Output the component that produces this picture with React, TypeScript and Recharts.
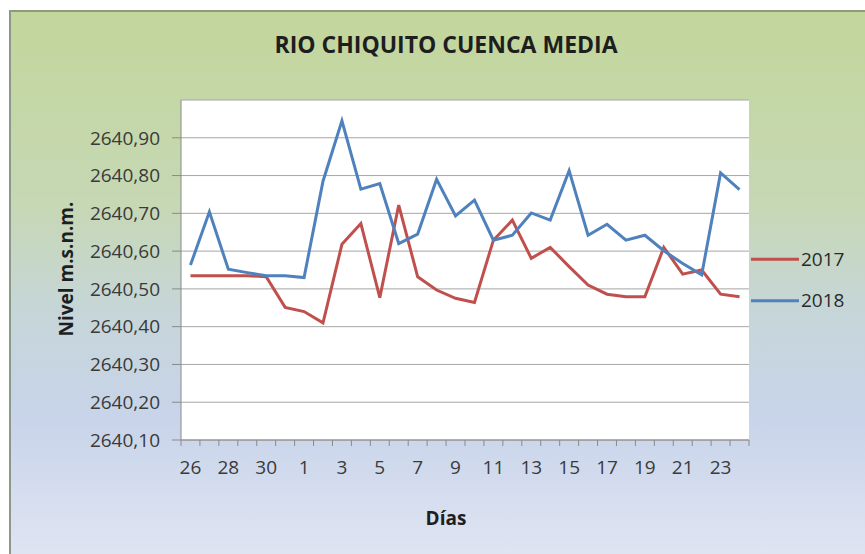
import React from 'react';
import { LineChart, Line, XAxis, YAxis, CartesianGrid } from 'recharts';

const days = ['26', '27', '28', '29', '30', '31', '1', '2', '3', '4', '5', '6', '7', '8', '9', '10', '11', '12', '13', '14', '15', '16', '17', '18', '19', '20', '21', '22', '23', '24'];

const nivel2017 = [2640.535, 2640.535, 2640.535, 2640.535, 2640.532, 2640.451, 2640.44, 2640.41, 2640.618, 2640.673, 2640.477, 2640.722, 2640.532, 2640.497, 2640.475, 2640.464, 2640.629, 2640.682, 2640.581, 2640.61, 2640.559, 2640.51, 2640.486, 2640.479, 2640.479, 2640.61, 2640.539, 2640.55, 2640.486, 2640.479];

const nivel2018 = [2640.563, 2640.704, 2640.552, 2640.543, 2640.535, 2640.535, 2640.53, 2640.785, 2640.945, 2640.764, 2640.779, 2640.62, 2640.645, 2640.79, 2640.693, 2640.735, 2640.629, 2640.642, 2640.701, 2640.682, 2640.813, 2640.642, 2640.671, 2640.629, 2640.642, 2640.601, 2640.567, 2640.537, 2640.807, 2640.763];

const yTicks = [2640.1, 2640.2, 2640.3, 2640.4, 2640.5, 2640.6, 2640.7, 2640.8, 2640.9];
const yDomain = [2640.1, 2641.0];

const seriesNames = ['2017', '2018'];
const seriesColors = ['#c0504d', '#4f81bd'];

const titleText = 'RIO CHIQUITO CUENCA MEDIA';
const yTitle = 'Nivel m.s.n.m.';
const xTitle = 'Días';

const data = days.map((d, i) => ({ day: d, s2017: nivel2017[i], s2018: nivel2018[i] }));

const FONT = '"Open Sans", "Noto Sans", sans-serif';
const W = 865;
const H = 554;
const PLOT_L = 181;
const PLOT_R = 749;
const PLOT_T = 100;
const PLOT_B = 440;
const Y_W = 80;
const X_H = 40;
const BAND = (PLOT_R - PLOT_L) / days.length;

function XTick(props: any) {
  const { x, payload, index } = props;
  const showLabel = index % 2 === 0;
  return (
    <g>
      <line x1={x - BAND / 2} x2={x - BAND / 2} y1={PLOT_B} y2={PLOT_B + 6} stroke="#8a8a8a" strokeWidth={1} />
      {index === days.length - 1 && (
        <line x1={x + BAND / 2} x2={x + BAND / 2} y1={PLOT_B} y2={PLOT_B + 6} stroke="#8a8a8a" strokeWidth={1} />
      )}
      {showLabel && (
        <text x={x} y={467 + 0.357 * 19} textAnchor="middle" fontSize={19} fill="#3a3a3a" fontFamily={FONT}>
          {payload.value}
        </text>
      )}
    </g>
  );
}

export default function App() {
  const legendY = [259.3, 300.7];
  return (
    <div style={{ position: 'absolute', left: 0, top: 0, width: W, height: H, overflow: 'hidden', fontFamily: FONT }}>
      <div
        style={{
          position: 'absolute',
          left: 9,
          top: 10,
          width: W - 9,
          height: H - 10,
          boxSizing: 'border-box',
          borderLeft: '2px solid #8c9888',
          borderTop: '2px solid #8c9a7e',
          background: 'linear-gradient(to bottom, #c3d69b 0%, #c6d8b4 35%, #c6d6d8 55%, #c8d4ea 75%, #dfe4f2 100%)',
        }}
      />
      <div style={{ position: 'absolute', left: 0, top: 0 }}>
        <LineChart
          width={W}
          height={H}
          data={data}
          margin={{ top: PLOT_T, right: W - PLOT_R, bottom: H - PLOT_B - X_H, left: PLOT_L - Y_W }}
        >
          <CartesianGrid vertical={false} fill="#ffffff" fillOpacity={1} stroke="#a6a6a6" strokeWidth={1} />
          <XAxis
            dataKey="day"
            type="category"
            interval={0}
            height={X_H}
            padding={{ left: BAND / 2, right: BAND / 2 }}
            tick={<XTick />}
            tickLine={false}
            axisLine={{ stroke: '#8a8a8a', strokeWidth: 1 }}
          />
          <YAxis
            type="number"
            domain={yDomain}
            ticks={yTicks}
            width={Y_W}
            allowDataOverflow
            tickSize={9}
            tickMargin={12}
            tickLine={{ stroke: '#8a8a8a' }}
            axisLine={{ stroke: '#8a8a8a', strokeWidth: 1 }}
            tickFormatter={(v: number) => v.toFixed(2).replace('.', ',')}
            tick={{ fontSize: 19, fill: '#3a3a3a', fontFamily: FONT }}
          />
          <Line type="linear" dataKey="s2017" name={seriesNames[0]} stroke={seriesColors[0]} strokeWidth={3} dot={false} isAnimationActive={false} />
          <Line type="linear" dataKey="s2018" name={seriesNames[1]} stroke={seriesColors[1]} strokeWidth={3} dot={false} isAnimationActive={false} />
        </LineChart>
      </div>
      <svg width={W} height={H} style={{ position: 'absolute', left: 0, top: 0, pointerEvents: 'none' }}>
        <text x={446} y={45 + 0.357 * 23} textAnchor="middle" fontSize={23} fontWeight="bold" fill="#1e1e1e" fontFamily={FONT}>
          {titleText}
        </text>
        <text x={446} y={518 + 0.357 * 19} textAnchor="middle" fontSize={19} fontWeight="bold" fill="#1e1e1e" fontFamily={FONT}>
          {xTitle}
        </text>
        <text
          x={66.7 + 0.357 * 19}
          y={269}
          textAnchor="middle"
          fontSize={19}
          fontWeight="bold"
          fill="#1e1e1e"
          fontFamily={FONT}
          transform={`rotate(-90, ${66.7 + 0.357 * 19}, 269)`}
        >
          {yTitle}
        </text>
        {seriesNames.map((n, i) => (
          <g key={n}>
            <line x1={751} x2={799} y1={legendY[i]} y2={legendY[i]} stroke={seriesColors[i]} strokeWidth={3} />
            <text x={801} y={legendY[i] + 0.357 * 19} fontSize={19} fill="#2a2a2a" fontFamily={FONT}>
              {n}
            </text>
          </g>
        ))}
      </svg>
    </div>
  );
}
